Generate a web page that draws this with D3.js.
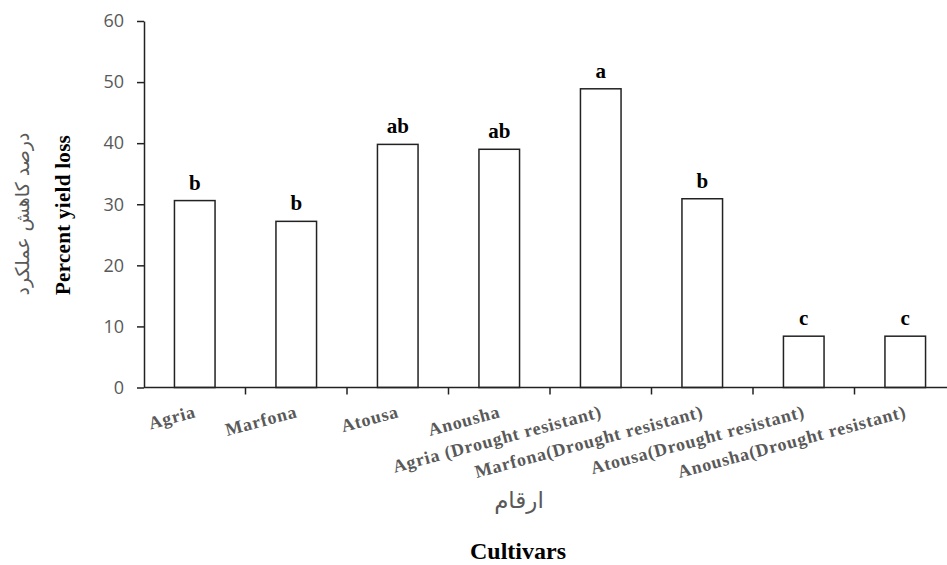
<!DOCTYPE html>
<html>
<head>
<meta charset="utf-8">
<script src="https://cdn.jsdelivr.net/npm/d3@7"></script>
<style>
  body { margin: 0; background: #fff; }
  svg { display: block; }
</style>
</head>
<body>
<svg id="chart" width="947" height="565"></svg>
<script>
const cultivars = [
  'Agria', 'Marfona', 'Atousa', 'Anousha',
  'Agria (Drought resistant)', 'Marfona(Drought resistant)',
  'Atousa(Drought resistant)', 'Anousha(Drought resistant)'
];
const yieldLoss = [30.6, 27.2, 39.8, 39.0, 48.9, 30.9, 8.4, 8.4];
const groups = ['b', 'b', 'ab', 'ab', 'a', 'b', 'c', 'c'];
const yTicks = [0, 10, 20, 30, 40, 50, 60];

const rows = cultivars.map((name, i) => ({ name, value: yieldLoss[i], group: groups[i] }));

const svg = d3.select('#chart');

const left = 144;
const bottom = 387.5;

const x = d3.scaleBand()
  .domain(cultivars)
  .range([left, 956])
  .paddingInner(0.6)
  .paddingOuter(0.3);

const y = d3.scaleLinear()
  .domain([0, 60])
  .range([bottom, 21]);

// y axis
const yAxis = svg.append('g')
  .attr('transform', `translate(${left},0)`)
  .call(d3.axisLeft(y).tickValues(yTicks).tickSize(7).tickSizeOuter(0).tickPadding(13));

yAxis.select('.domain').attr('stroke', '#222').attr('stroke-width', 1.5);
yAxis.selectAll('.tick line').attr('stroke', '#222').attr('stroke-width', 1.5);
yAxis.selectAll('.tick text')
  .attr('fill', '#595959')
  .style('font-family', '"Open Sans", "Noto Sans", sans-serif')
  .style('font-size', '18px');

// bars
svg.append('g')
  .selectAll('rect')
  .data(rows)
  .enter()
  .append('rect')
  .attr('x', d => x(d.name))
  .attr('y', d => y(d.value))
  .attr('width', x.bandwidth())
  .attr('height', d => y(0) - y(d.value))
  .attr('fill', '#fff')
  .attr('stroke', '#222')
  .attr('stroke-width', 1.5);

// significance letters
svg.append('g')
  .selectAll('text')
  .data(rows)
  .enter()
  .append('text')
  .attr('x', d => x(d.name) + x.bandwidth() / 2)
  .attr('y', d => y(d.value) - 11)
  .attr('text-anchor', 'middle')
  .attr('fill', '#000')
  .style('font-family', '"Liberation Serif", "Times New Roman", serif')
  .style('font-weight', 'bold')
  .style('font-size', '21px')
  .text(d => d.group);

// x axis line and boundary ticks
const xAxis = svg.append('g');

xAxis.append('line')
  .attr('x1', left)
  .attr('x2', 956)
  .attr('y1', bottom)
  .attr('y2', bottom)
  .attr('stroke', '#222')
  .attr('stroke-width', 1.5);

xAxis.selectAll('.xtick')
  .data(cultivars)
  .enter()
  .append('line')
  .attr('class', 'xtick')
  .attr('x1', d => x(d) + x.bandwidth() / 2 + x.step() / 2)
  .attr('x2', d => x(d) + x.bandwidth() / 2 + x.step() / 2)
  .attr('y1', bottom)
  .attr('y2', bottom + 7)
  .attr('stroke', '#222')
  .attr('stroke-width', 1.5);

xAxis.selectAll('.xlabel')
  .data(cultivars)
  .enter()
  .append('text')
  .attr('class', 'xlabel')
  .attr('transform', d => `translate(${x(d) + x.bandwidth() / 2 + 2},417) rotate(-15)`)
  .attr('text-anchor', 'end')
  .attr('fill', '#595959')
  .style('font-family', '"Liberation Serif", "Times New Roman", serif')
  .style('font-weight', 'bold')
  .style('font-size', '18px')
  .style('letter-spacing', '0.8px')
  .text(d => d);

// axis titles
svg.append('text')
  .attr('transform', 'translate(70,215) rotate(-90)')
  .attr('text-anchor', 'middle')
  .attr('fill', '#000')
  .style('font-family', '"Liberation Serif", "Times New Roman", serif')
  .style('font-weight', 'bold')
  .style('font-size', '21px')
  .style('letter-spacing', '0.3px')
  .text('Percent yield loss');

svg.append('text')
  .attr('transform', 'translate(29,214) rotate(-90)')
  .attr('text-anchor', 'middle')
  .attr('fill', '#595959')
  .style('font-family', '"DejaVu Sans", sans-serif')
  .style('font-size', '19px')
  .text('درصد کاهش عملکرد');

svg.append('text')
  .attr('x', 519)
  .attr('y', 508)
  .attr('text-anchor', 'middle')
  .attr('fill', '#595959')
  .style('font-family', '"DejaVu Sans", sans-serif')
  .style('font-size', '23px')
  .text('ارقام');

svg.append('text')
  .attr('x', 518)
  .attr('y', 559)
  .attr('text-anchor', 'middle')
  .attr('fill', '#000')
  .style('font-family', '"Liberation Serif", "Times New Roman", serif')
  .style('font-weight', 'bold')
  .style('font-size', '24px')
  .text('Cultivars');
</script>
</body>
</html>
